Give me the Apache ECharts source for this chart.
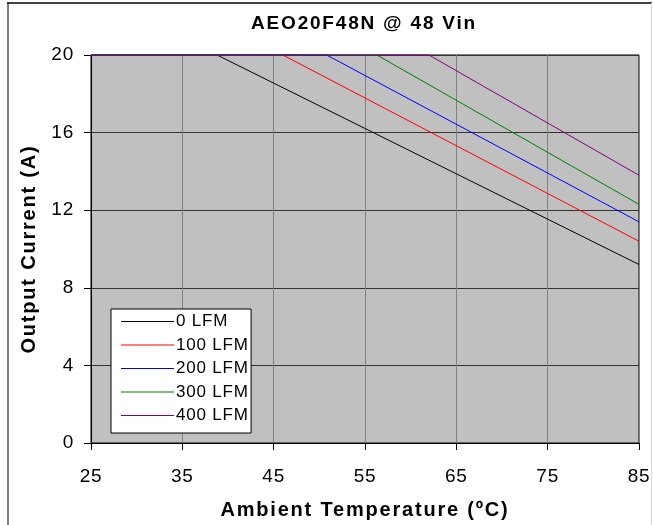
<!DOCTYPE html>
<html>
<head>
<meta charset="utf-8">
<script src="https://cdn.jsdelivr.net/npm/echarts@6/dist/echarts.min.js"></script>
<style>
html,body{margin:0;padding:0;background:#fff;}
#chart{width:653px;height:525px;}
</style>
</head>
<body>
<div id="chart"></div>
<script>
var titleText = 'AEO20F48N @ 48 Vin';
var xAxisName = 'Ambient Temperature (ºC)';
var yAxisName = 'Output Current (A)';
var seriesNames = ['0 LFM', '100 LFM', '200 LFM', '300 LFM', '400 LFM'];
var seriesColors = ['#000000', '#ff0000', '#0000ff', '#008000', '#800080'];
// [temperature, current] breakpoints
var lfm0   = [[25, 20], [38.8, 20], [85, 9.2]];
var lfm100 = [[25, 20], [46.0, 20], [85, 10.4]];
var lfm200 = [[25, 20], [50.8, 20], [85, 11.4]];
var lfm300 = [[25, 20], [56.3, 20], [85, 12.3]];
var lfm400 = [[25, 20], [62.0, 20], [85, 13.8]];
var seriesData = [lfm0, lfm100, lfm200, lfm300, lfm400];
var xMin = 25, xMax = 85, xStep = 10;
var yMin = 0, yMax = 20, yStep = 4;

// the reference text is drawn with a little extra spacing between letters
(function () {
  var proto = CanvasRenderingContext2D.prototype;
  var origFill = proto.fillText;
  proto.fillText = function (t, x, y, m) {
    var had = this.letterSpacing;
    if (had !== undefined) {
      this.letterSpacing = /bold/.test(this.font) ? '1.8px' : '0.8px';
    }
    if (m === undefined) origFill.call(this, t, x, y); else origFill.call(this, t, x, y, m);
    if (had !== undefined) this.letterSpacing = had;
  };
})();

var chart = echarts.init(document.getElementById('chart'));
var font = '"Liberation Sans", Arial, sans-serif';
var series = seriesNames.map(function (n, i) {
  return {
    name: n,
    type: 'line',
    data: seriesData[i],
    symbol: 'none',
    showSymbol: false,
    clip: false,
    lineStyle: { color: seriesColors[i], width: 1 },
    itemStyle: { color: seriesColors[i] },
    animation: false
  };
});
chart.setOption({
  animation: false,
  backgroundColor: '#ffffff',
  title: {
    text: titleText,
    left: 359, top: 9, textAlign: 'center',
    textStyle: { fontFamily: font, fontSize: 19, fontWeight: 'bold', color: '#000' }
  },
  graphic: [
    { type: 'line', shape: { x1: 7, y1: 3, x2: 652, y2: 3 }, style: { stroke: '#404040', lineWidth: 2 }, silent: true },
    { type: 'line', shape: { x1: 8, y1: 3, x2: 8, y2: 525 }, style: { stroke: '#000', lineWidth: 1 }, silent: true },
    { type: 'line', shape: { x1: 651.5, y1: 3, x2: 651.5, y2: 525 }, style: { stroke: '#d8d8d8', lineWidth: 1 }, silent: true }
  ],
  grid: {
    left: 91, right: 14, top: 55, bottom: 80,
    show: true, backgroundColor: '#c0c0c0', borderColor: '#000', borderWidth: 1
  },
  legend: {
    orient: 'vertical',
    left: 111, top: 309,
    data: seriesNames,
    icon: 'rect',
    backgroundColor: '#ffffff', borderColor: '#000', borderWidth: 1,
    padding: [4, 8, 9, 10],
    itemWidth: 53, itemHeight: 1, itemGap: 6.5,
    textStyle: { fontFamily: font, fontSize: 17, color: '#000', padding: [0, 0, 0, -3] },
    selectedMode: false
  },
  xAxis: {
    type: 'value', min: xMin, max: xMax, interval: xStep,
    name: xAxisName, nameLocation: 'middle', nameGap: 57,
    nameTextStyle: { fontFamily: font, fontSize: 20, fontWeight: 'bold', color: '#000' },
    axisLine: { show: true, lineStyle: { color: '#000', width: 1 } },
    axisTick: { show: true, length: 7, lineStyle: { color: '#000' } },
    axisLabel: { fontFamily: font, fontSize: 19, color: '#000', margin: 24 },
    splitLine: { show: true, lineStyle: { color: '#808080', width: 1 } }
  },
  yAxis: {
    type: 'value', min: yMin, max: yMax, interval: yStep,
    name: yAxisName, nameLocation: 'middle', nameGap: 52,
    nameTextStyle: { fontFamily: font, fontSize: 20, fontWeight: 'bold', color: '#000' },
    axisLine: { show: true, lineStyle: { color: '#000', width: 1 } },
    axisTick: { show: true, length: 7, lineStyle: { color: '#000' } },
    axisLabel: { fontFamily: font, fontSize: 19, color: '#000', margin: 17 },
    splitLine: { show: true, lineStyle: { color: '#333333', width: 1 } }
  },
  series: series
});
</script>
</body>
</html>
